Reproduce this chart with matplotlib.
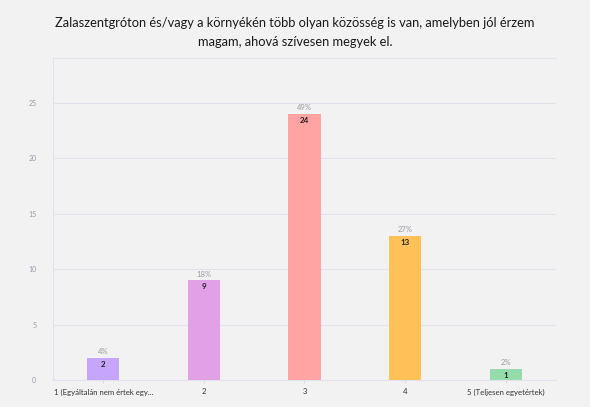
import matplotlib
matplotlib.use("Agg")
import matplotlib.pyplot as plt

# Data
categories = ["1 (Egyáltalán nem értek egy...", "2", "3", "4", "5 (Teljesen egyetértek)"]
counts = [2, 9, 24, 13, 1]
percents = ["4%", "18%", "49%", "27%", "2%"]
colors = ["#c6a5fc", "#e2a1e4", "#ffa3a3", "#ffc158", "#96dbab"]
yticks = [0, 5, 10, 15, 20, 25]

plt.rcParams['font.family'] = ['Lato', 'DejaVu Sans']

bg = "#f2f2f2"
fig = plt.figure(figsize=(5.9, 4.07), dpi=100, facecolor=bg)
ax = fig.add_axes([0.0898, 0.0663, 0.8525, 0.7912], facecolor=bg)

x = range(len(categories))
ax.bar(x, counts, width=0.32, color=colors, zorder=3)

for i, (c, p) in enumerate(zip(counts, percents)):
    ax.text(i, c + 0.25, p, ha='center', va='bottom', fontsize=5.5, color='#9a9aa6')
    ax.text(i, c - 0.25, str(c), ha='center', va='top', fontsize=5.8,
            color='#222222', fontweight='bold')

ax.set_xlim(-0.5, 4.5)
ax.set_ylim(0, 29.06)
ax.set_xticks(list(x))
ax.set_xticklabels(categories, fontsize=5.6, color='#333333')
ax.set_yticks(yticks)
ax.set_yticklabels([str(t) for t in yticks], fontsize=5, color='#9a9aa6')
ax.tick_params(axis='x', length=2, color='#dcdce6', pad=4)
ax.tick_params(axis='y', length=0, pad=12)

ax.grid(axis='y', color='#e2e2ec', linewidth=0.8, zorder=0)
for s in ['left', 'top', 'bottom']:
    ax.spines[s].set_color('#e2e2ec')
    ax.spines[s].set_linewidth(0.8)
ax.spines['right'].set_visible(False)

fig.text(0.5, 0.92, "Zalaszentgróton és/vagy a környékén több olyan közösség is van, amelyben jól érzem\nmagam, ahová szívesen megyek el.",
         ha='center', va='center', fontsize=9.3, color='#1a1a1a', linespacing=1.75)

fig.savefig("out.png", dpi=100, facecolor=bg)
